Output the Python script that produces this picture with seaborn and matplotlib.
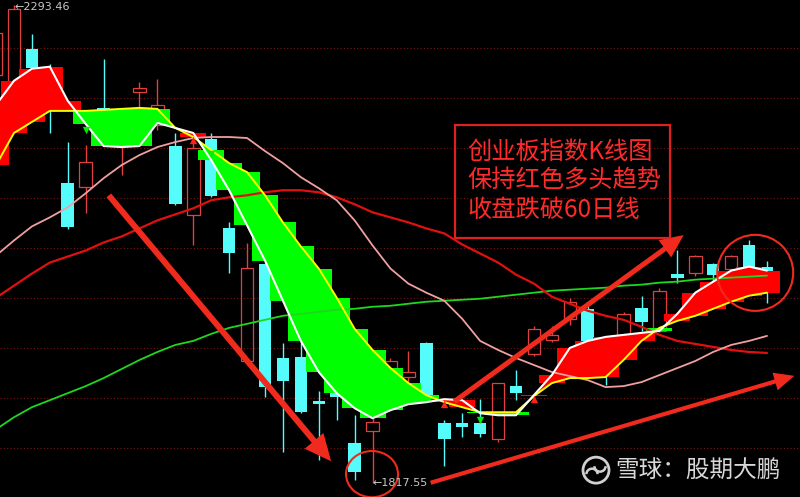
import numpy as np
import pandas as pd
import seaborn as sns
import matplotlib.pyplot as plt
from matplotlib.patches import Rectangle, Ellipse, FancyArrowPatch, Arc

# trading days shown (day -1 is cut by the left edge)
days = list(range(-1, 43))
opens = [2224, 2208, 2250, 2226, 2116, 2112, 2191, 2159, 2207, 2174, 2153, 2084, 2160, 2071, 1939,
         2036, 1942, 1943, 1899, 1915, 1857, 1869, 1926, 1923, 1957, 1877, 1877, 1877, 1861, 1914,
         1946, 1960, 1981, 1991, 1950, 1964, 1992, 1969, 2026, 2027, 2036, 2031, 2054, 2033]
closes = [2266, 2289, 2231, 2188, 2072, 2137, 2164, 2174, 2211, 2194, 2095, 2151, 2103, 2047, 2032,
          1913, 1919, 1888, 1896, 1903, 1828, 1878, 1939, 1928, 1905, 1861, 1873, 1866, 1917, 1907,
          1971, 1965, 1998, 1959, 1928, 1986, 1978, 2009, 2022, 2044, 2025, 2044, 2033, 2029]
highs = [2270, 2293.46, 2265, 2235, 2157, 2154, 2240, 2184, 2217, 2220, 2166, 2159, 2166, 2077, 2056,
         2037, 1957, 1958, 1909, 1920, 1885, 1882, 1942, 1949, 1958, 1880, 1887, 1901, 1917, 1930,
         1974, 1974, 2002, 1994, 1955, 1988, 2004, 2012, 2050, 2045, 2037, 2045, 2059, 2039]
lows = [2218, 2203, 2226, 2166, 2070, 2086, 2159, 2124, 2186, 2169, 2094, 2054, 2102, 2027, 1938,
        1903, 1848, 1887, 1840, 1880, 1821, 1817.55, 1920, 1915, 1904, 1834, 1863, 1863, 1858, 1900,
        1944, 1958, 1975, 1958, 1915, 1963, 1969, 1968, 2017, 2024, 2014, 2029, 2032, 1997]

ma5 = [2194, 2218, 2230, 2232, 2198, 2175, 2153, 2152, 2153, 2176, 2171, 2166, 2139, 2109, 2074,
       2039, 1999, 1959, 1928, 1907, 1892, 1882, 1890, 1896, 1898, 1901, 1900, 1887, 1885, 1885,
       1905, 1925, 1952, 1959, 1963, 1965, 1967, 1969, 1986, 2007, 2018, 2029, 2033, 2029]
ma10 = [2134, 2166, 2177, 2188, 2188, 2188, 2189, 2190, 2191, 2190, 2171, 2162, 2149, 2136, 2127,
        2104, 2077, 2053, 2031, 2002, 1971, 1950, 1932, 1917, 1905, 1898, 1893, 1888, 1888, 1888,
        1904, 1917, 1922, 1922, 1923, 1940, 1959, 1972, 1979, 1984, 1991, 1998, 2004, 2007]
ma20 = [2044, 2059, 2073, 2082, 2092, 2106, 2121, 2134, 2144, 2152, 2157, 2161, 2162, 2162, 2161,
        2148, 2136, 2122, 2111, 2099, 2079, 2054, 2031, 2016, 2007, 1999, 1981, 1959, 1950, 1942,
        1935, 1928, 1924, 1920, 1913, 1914, 1918, 1925, 1932, 1939, 1948, 1955, 1959, 1964]
ma30 = [2002, 2014, 2026, 2037, 2043, 2049, 2057, 2063, 2071, 2079, 2085, 2091, 2099, 2102, 2104,
        2107, 2109, 2109, 2107, 2102, 2095, 2087, 2082, 2077, 2071, 2066, 2055, 2046, 2037, 2025,
        2016, 2003, 1996, 1989, 1984, 1980, 1973, 1965, 1959, 1956, 1953, 1950, 1948, 1947]
ma60 = [1871, 1883, 1893, 1900, 1907, 1914, 1922, 1931, 1940, 1948, 1955, 1959, 1966, 1972, 1976,
        1980, 1984, 1986, 1988, 1990, 1991, 1993, 1994, 1996, 1998, 1999, 2000, 2001, 2003, 2005,
        2007, 2009, 2010, 2011, 2012, 2014, 2015, 2017, 2018, 2020, 2021, 2022, 2023, 2024]

buy_days = [10, 24, 29]
buy_marks = [2159, 1896, 1901]
sell_days = [4, 11, 26]
sell_marks = [2169, 2145, 1880]

grid_levels = [2250.6, 2200.8, 2151.1, 2101.3, 2051.5, 2001.7, 1951.9, 1902.2, 1852.4]

note_lines = ['创业板指数K线图', '保持红色多头趋势', '收盘跌破60日线']
high_label = '←2293.46'
low_label = '←1817.55'
watermark = '雪球：股期大鹏'

# hand drawn trend arrows (day, price)
trend_arrows = [((5.19, 2106), (17.79, 1837), 16, 0.27),
                ((24.43, 1897), (37.48, 2066), 14, 0.26),
                ((23.09, 1817), (43.67, 1925), 12, 0.25)]

CYAN = '#54fcfc'
RED = '#f02a1c'

sns.set_theme(style='dark', rc={'axes.facecolor': 'black', 'figure.facecolor': 'black'})
plt.rcParams['font.family'] = ['Noto Sans CJK SC', 'DejaVu Sans']

df = pd.DataFrame({'day': days, 'open': opens, 'close': closes, 'high': highs, 'low': lows,
                   'ma5': ma5, 'ma10': ma10, 'ma20': ma20, 'ma30': ma30, 'ma60': ma60})

fig = plt.figure(figsize=(8, 4.97), dpi=100)
ax = fig.add_axes([0, 0, 1, 1])
ax.set_facecolor('black')

for g in grid_levels:
    ax.axhline(g, color='#7a1414', lw=0.8, ls=(0, (1, 2)), zorder=1)

up = df[df['close'] >= df['open']]
down = df[df['close'] < df['open']]

# falling days: solid cyan
ax.vlines(down['day'], down['low'], down['high'], color=CYAN, lw=1, zorder=2)
ax.bar(down['day'], down['open'] - down['close'], bottom=down['close'], width=0.7,
       color=CYAN, lw=0, zorder=2)
# rising days: hollow red
ax.vlines(up['day'], up['close'], up['high'], color='#e04040', lw=1, zorder=2)
ax.vlines(up['day'], up['low'], up['open'], color='#e04040', lw=1, zorder=2)
ax.bar(up['day'], up['close'] - up['open'], bottom=up['open'], width=0.7,
       fill=False, edgecolor='#e04040', lw=0.9, zorder=2)

# ma5 / ma10 band
x = df['day'].to_numpy(float)
a = df['ma5'].to_numpy(float)
b = df['ma10'].to_numpy(float)
ax.fill_between(x, a, b, where=a >= b, interpolate=True, color='#ff0000', lw=0, zorder=3)
ax.fill_between(x, a, b, where=a < b, interpolate=True, color='#00ff00', lw=0, zorder=3)
block_colors = np.where(a >= b, '#ff0000', '#00ff00')
ax.bar(x, a - b, bottom=b, width=1.45, color=block_colors, lw=0, zorder=3)

sns.lineplot(data=df, x='day', y='ma60', color='#1ed81e', lw=1.3, ax=ax, zorder=4)
sns.lineplot(data=df, x='day', y='ma30', color='#e01010', lw=1.6, ax=ax, zorder=4)
sns.lineplot(data=df, x='day', y='ma20', color='#f0a0a0', lw=1.3, ax=ax, zorder=4)
sns.lineplot(data=df, x='day', y='ma10', color='#ffff00', lw=1.4, ax=ax, zorder=5)
sns.lineplot(data=df, x='day', y='ma5', color='white', lw=1.5, ax=ax, zorder=5)

ax.scatter(buy_days, buy_marks, marker='^', color='#ff2020', s=28, lw=0, zorder=6)
ax.scatter(sell_days, sell_marks, marker='v', color='#00ee00', s=28, lw=0, zorder=6)

for start, end, scale, tail in trend_arrows:
    ax.add_patch(FancyArrowPatch(start, end, mutation_scale=scale, color=RED, lw=0, zorder=8,
                 arrowstyle=f'simple,head_width=1.1,head_length=1.2,tail_width={tail}'))

ax.set_xlim(-0.78, 43.84)
ax.set_ylim(1803.6, 2298.4)
ax.axis('off')

# notes
ax.add_patch(Rectangle((0.569, 0.521), 0.2685, 0.2275, transform=ax.transAxes, fill=False,
                       ec='#e02020', lw=1.6, zorder=9))
for i, line in enumerate(note_lines):
    ax.text(0.584, 0.694 - i * 0.058, line, transform=ax.transAxes, color='#ff2a2a',
            fontsize=17.5, va='center', zorder=9)

ax.add_patch(Ellipse((0.465, 0.046), 0.065, 0.093, transform=ax.transAxes, fill=False,
                     ec=RED, lw=1.5, zorder=9))
ax.add_patch(Ellipse((0.944, 0.451), 0.095, 0.153, transform=ax.transAxes, fill=False,
                     ec=RED, lw=1.5, zorder=9))

ax.text(0.018, 0.986, high_label, transform=ax.transAxes, color='#c8c8c8', fontsize=8,
        family=['DejaVu Sans'], va='center', zorder=9)
ax.text(0.466, 0.028, low_label, transform=ax.transAxes, color='#c8c8c8', fontsize=8,
        family=['DejaVu Sans'], va='center', zorder=9)

# watermark logo
ax.add_patch(Ellipse((0.745, 0.054), 0.0325, 0.0523, transform=ax.transAxes, fill=False,
                     ec='#d0d0d0', lw=2, zorder=9))
ax.add_patch(Arc((0.740, 0.046), 0.014, 0.022, theta1=0, theta2=180, transform=ax.transAxes,
                 ec='#d0d0d0', lw=1.8, zorder=9))
ax.add_patch(Arc((0.750, 0.062), 0.014, 0.022, theta1=180, theta2=360, transform=ax.transAxes,
                 ec='#d0d0d0', lw=1.8, zorder=9))
ax.text(0.769, 0.052, watermark, transform=ax.transAxes, color='#d8d8d8', fontsize=17,
        va='center', zorder=9)

fig.savefig('out.png', dpi=100, facecolor='black')
